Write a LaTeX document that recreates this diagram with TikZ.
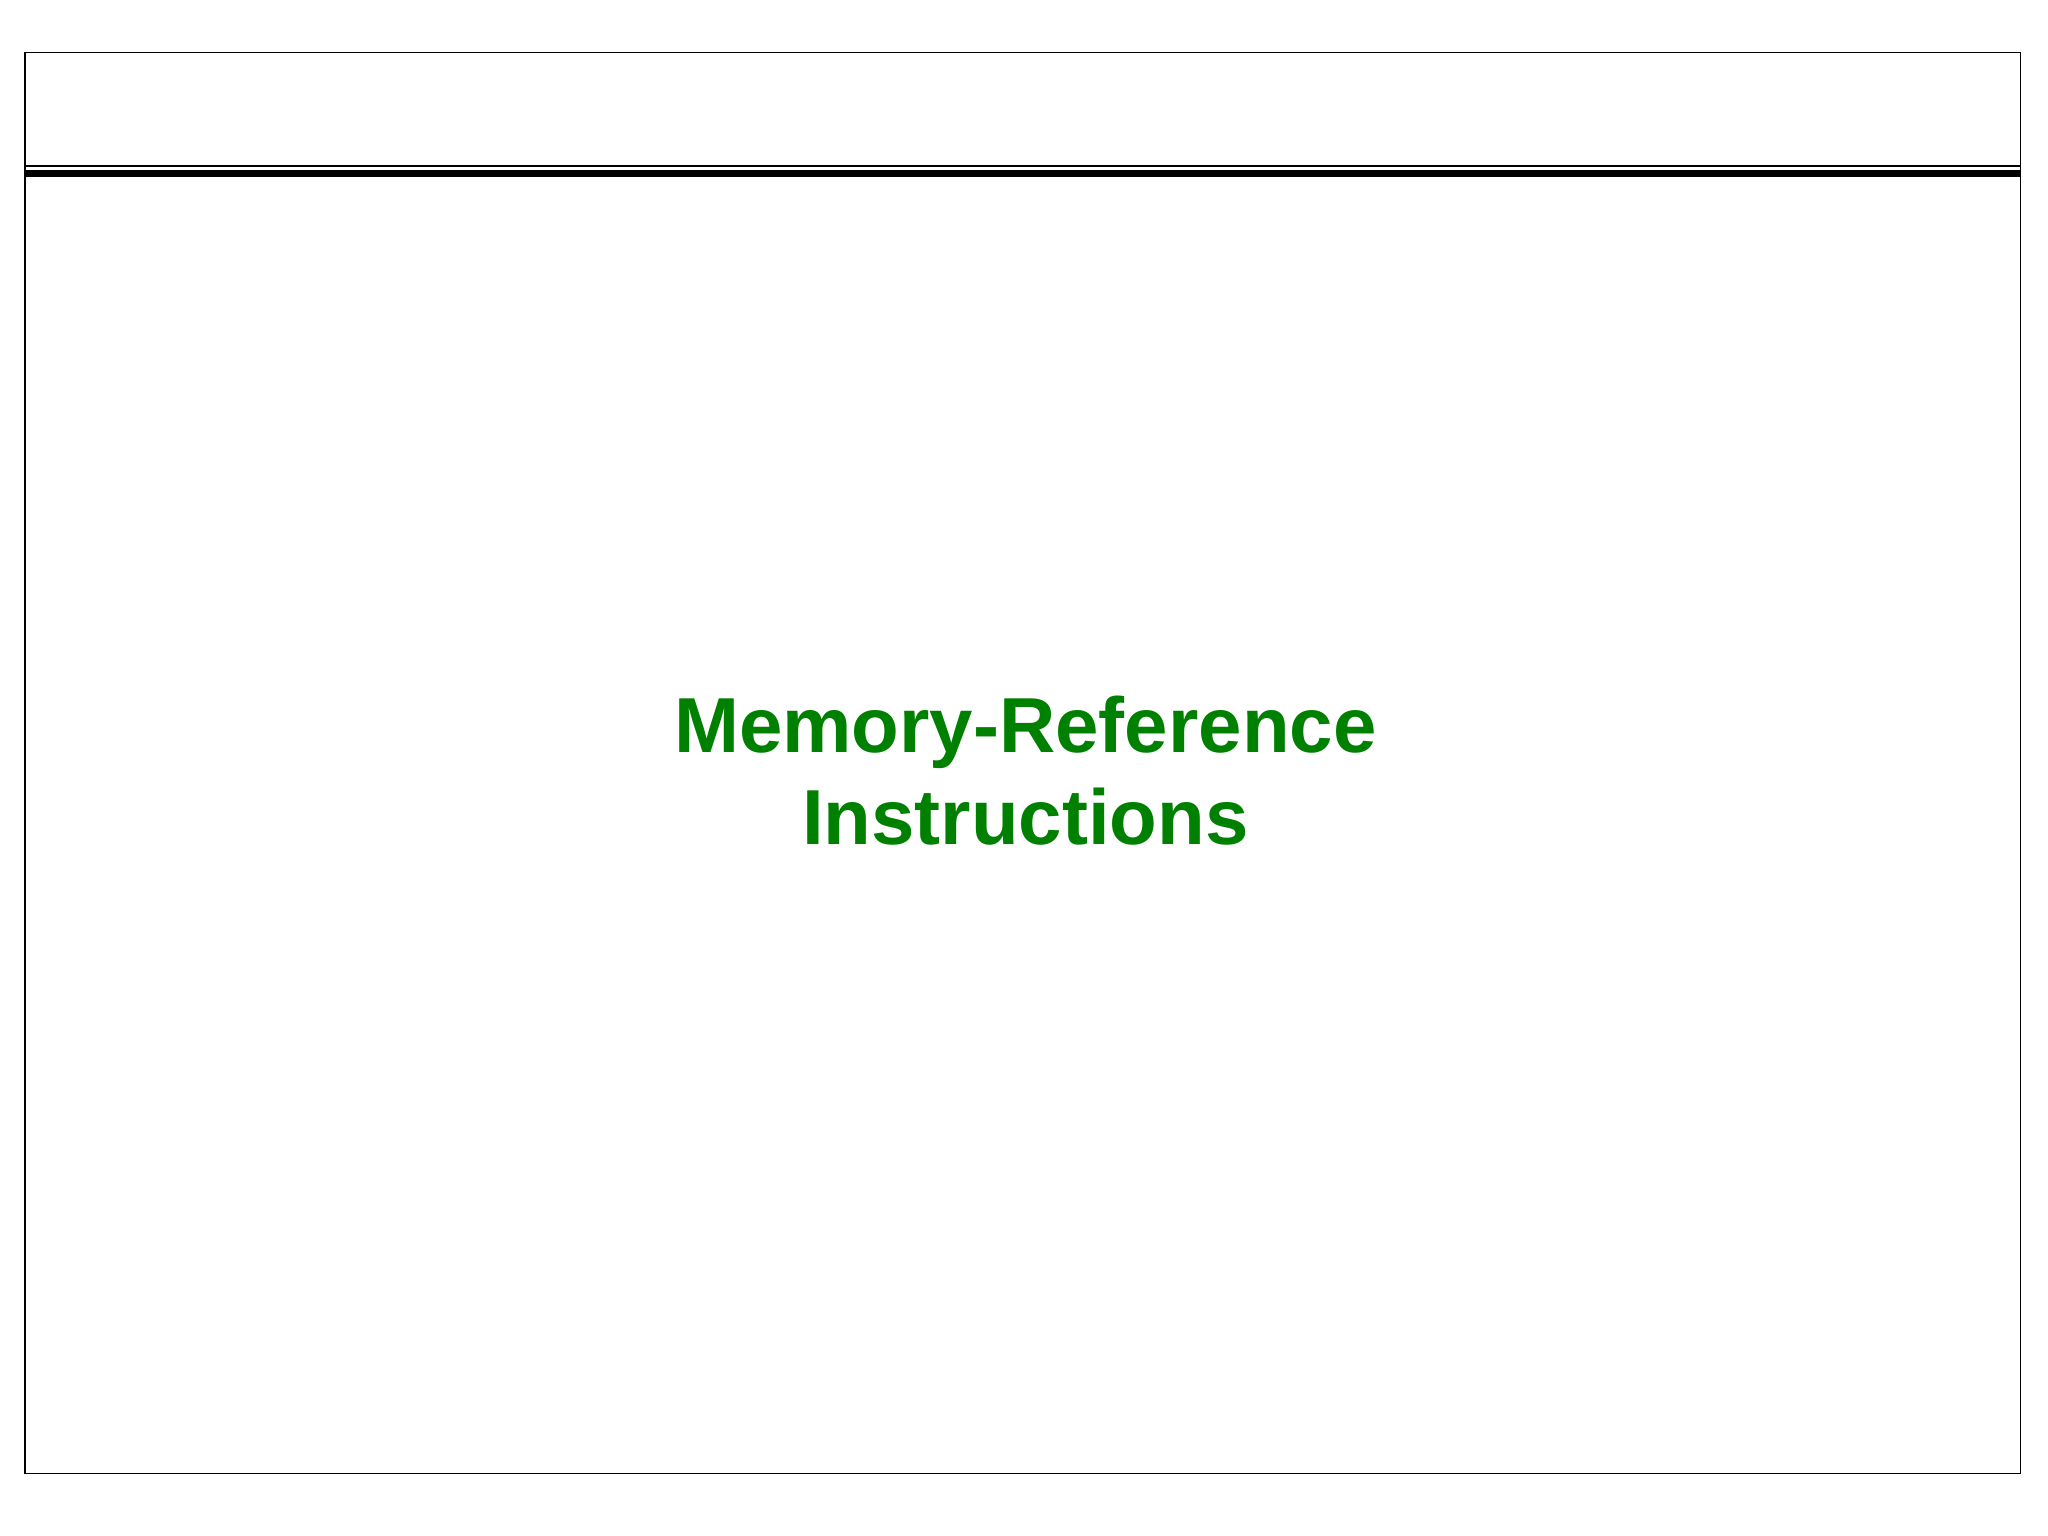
\documentclass[tikz,border=0pt]{standalone}
\usepackage{fontspec}
\setmainfont{Liberation Sans}
\definecolor{titlegreen}{RGB}{0,128,0}
\begin{document}
\begin{tikzpicture}[x=0.02cm,y=-0.02cm,
  frame/.style={draw=black,line width=0.6pt},
  title/.style={font=\fontsize{34}{40}\selectfont\bfseries,text=titlegreen,align=center}]
\useasboundingbox (0,0) rectangle (1568,1176);
\draw[frame] (19,40) rectangle (1547,1128);
\draw[line width=1pt] (19,127) -- (1547,127);
\draw[line width=3pt] (19,133) -- (1547,133);
\node[title] (t) at (785,590) {Memory-Reference\\Instructions};
\end{tikzpicture}
\end{document}
